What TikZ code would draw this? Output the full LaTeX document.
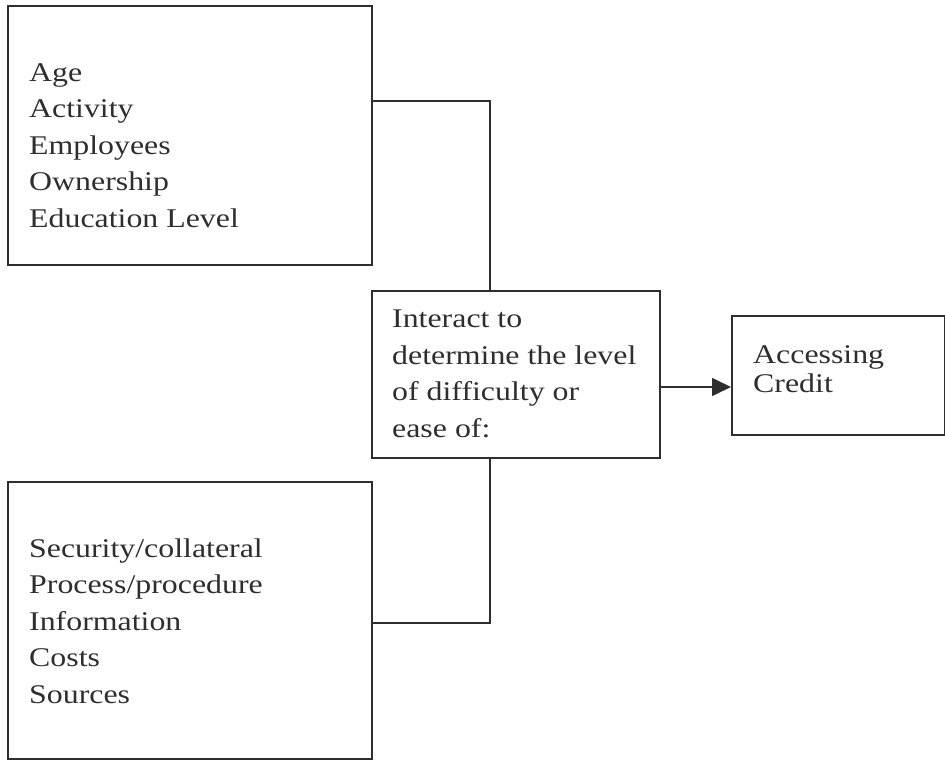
\documentclass[tikz,border=0pt]{standalone}
\usepackage{fontspec}
\setmainfont[FakeStretch=1.18]{Liberation Serif}
\usetikzlibrary{arrows.meta}
\definecolor{ink}{HTML}{2E2E2E}
\tikzset{
  box/.style={draw=ink, line width=1.6pt, rectangle, anchor=north west, inner sep=0pt},
  txt/.style={anchor=base west, align=left, inner sep=0pt, text=ink, font=\fontsize{27}{36.5}\selectfont},
  link/.style={draw=ink, line width=1.6pt},
}
\begin{document}
\begin{tikzpicture}[x=1pt, y=-1pt]
\useasboundingbox (0,0) rectangle (945,760);
% boxes
\node[box, minimum width=364pt, minimum height=259pt] (top) at (7,5) {};
\node[box, minimum width=364pt, minimum height=277pt] (bot) at (7,481) {};
\node[box, minimum width=288pt, minimum height=167pt] (mid) at (371,290) {};
\node[box, minimum width=213pt, minimum height=119pt] (cred) at (731,315) {};
% texts (anchored at the baseline of the last line)
\node[txt] (ttop) at (29,227) {Age\\Activity\\Employees\\Ownership\\Education Level};
\node[txt] (tbot) at (29,703) {Security/collateral\\Process/procedure\\Information\\Costs\\Sources};
\node[txt] (tmid) at (392,437) {Interact to\\determine the level\\of difficulty or\\ease of:};
\node[txt, font=\fontsize{27}{28.4}\selectfont] (tcred) at (753,392) {Accessing\\Credit};
% connectors
\coordinate (j1) at (490,101);
\coordinate (j2) at (490,623);
\coordinate (ja) at (660,387);
\draw[link] (top.east |- j1) -- (j1) -- (j1 |- mid.north);
\draw[link] (bot.east |- j2) -- (j2) -- (j2 |- mid.south);
\draw[link, -{Triangle[length=19pt, width=18pt]}] (mid.east |- ja) -- (cred.west |- ja);
\end{tikzpicture}
\end{document}
